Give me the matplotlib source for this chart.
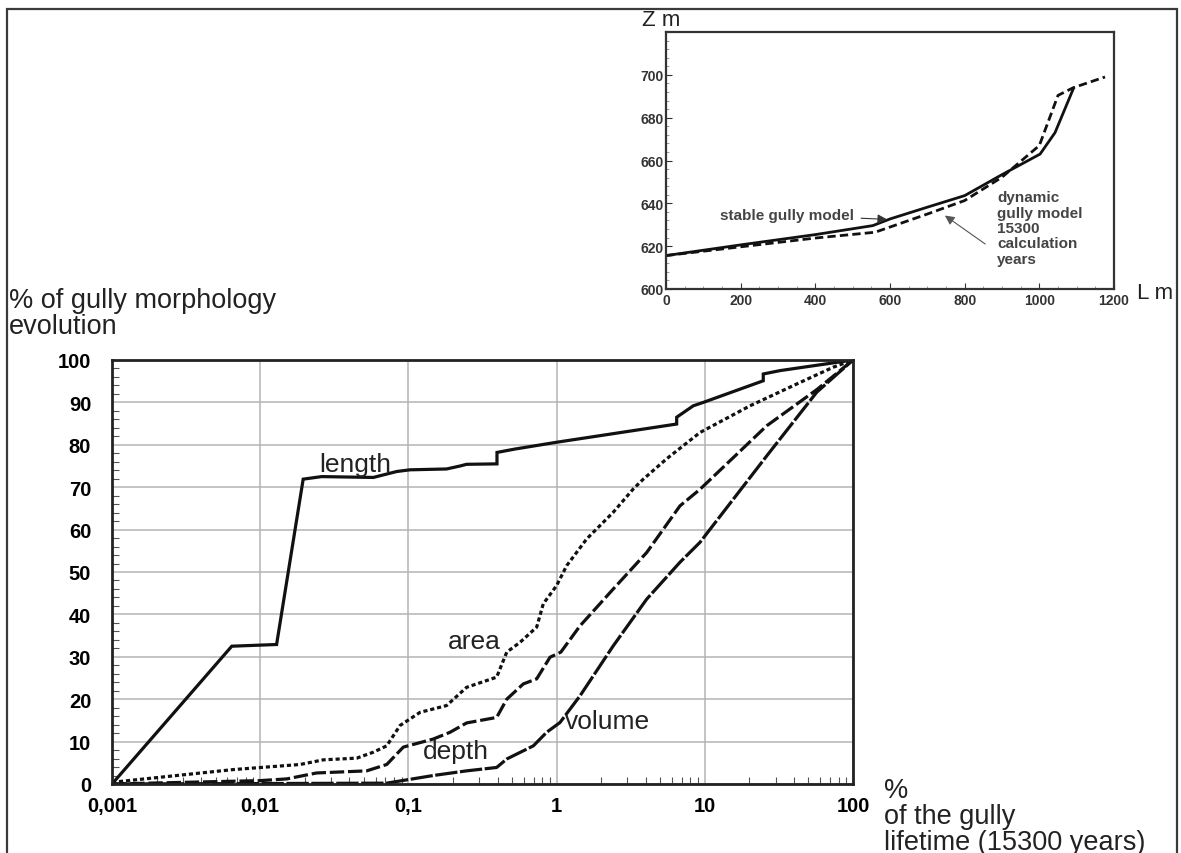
import matplotlib
matplotlib.use("Agg")
import matplotlib.pyplot as plt
from matplotlib.patches import Rectangle
from matplotlib.ticker import LogLocator, MultipleLocator, FixedLocator, NullFormatter

plt.rcParams['font.family'] = ['Liberation Sans', 'DejaVu Sans']

# ---- main chart: share of morphology change vs share of gully lifetime ----
x_ticks = [0.001, 0.01, 0.1, 1, 10, 100]
x_tick_labels = ["0,001", "0,01", "0,1", "1", "10", "100"]
y_ticks = [0, 10, 20, 30, 40, 50, 60, 70, 80, 90, 100]

length_x = [0.001, 0.00643, 0.0129, 0.0195, 0.026, 0.058, 0.0643, 0.0834, 0.1025,
            0.181, 0.223, 0.247, 0.396, 0.396, 0.524, 1.0, 6.46, 6.46, 8.36, 9.77,
            24.8, 24.8, 32.2, 100]
length_y = [0, 32.5, 32.9, 71.9, 72.5, 72.3, 72.7, 73.7, 74.1,
            74.3, 75.0, 75.4, 75.5, 78.2, 79.0, 80.6, 84.9, 86.5, 89.2, 90.0,
            95.1, 96.7, 97.5, 100]

area_x = [0.001, 0.00658, 0.01856, 0.0267, 0.0448, 0.058, 0.0714, 0.0878, 0.1198,
          0.181, 0.247, 0.394, 0.461, 0.566, 0.734, 0.813, 1.0, 1.17, 1.596, 2.413,
          3.293, 3.846, 5.53, 9.28, 20.2, 43.9, 73.6, 100]
area_y = [0.4, 3.4, 4.6, 5.7, 6.1, 7.5, 9.0, 13.8, 16.9,
          18.5, 22.8, 25.2, 31.1, 33.4, 37.0, 42.5, 46.8, 51.5, 57.8, 64.1,
          69.6, 71.9, 76.7, 82.9, 89.2, 94.7, 98.3, 100]

depth_x = [0.001, 0.01, 0.0151, 0.024, 0.0523, 0.0714, 0.0924, 0.147, 0.191, 0.247,
           0.394, 0.461, 0.596, 0.734, 0.903, 1.068, 1.439, 2.413, 4.055, 6.80,
           9.28, 26.2, 56.9, 100]
depth_y = [0, 0.8, 1.2, 2.6, 3.1, 4.6, 8.7, 10.6, 12.2, 14.4,
           15.7, 20.0, 23.6, 24.8, 29.9, 31.1, 37.3, 46.0, 54.6, 65.6,
           69.5, 84.5, 93.0, 100]

volume_x = [0.001, 0.0714, 0.147, 0.247, 0.394, 0.461, 0.697, 0.857, 1.054, 1.439,
            2.413, 4.055, 6.80, 9.28, 26.2, 56.9, 100]
volume_y = [0, 0.2, 2.0, 3.1, 3.9, 5.9, 9.0, 12.2, 14.5, 20.8,
            32.6, 43.6, 52.3, 57.0, 77.4, 92.4, 100]

# ---- inset: longitudinal profiles ----
profile_ticks_x = [0, 200, 400, 600, 800, 1000, 1200]
profile_ticks_y = [600, 620, 640, 660, 680, 700]

stable_L = [0, 200, 400, 554, 600, 700, 800, 900, 1002, 1042, 1091]
stable_Z = [615.6, 620.6, 625.4, 629.6, 632.7, 638.2, 643.6, 653.4, 663.0, 673.0, 693.5]

dynamic_L = [0, 400, 560, 700, 800, 900, 1000, 1050, 1091, 1176]
dynamic_Z = [615.6, 623.8, 626.5, 635.0, 641.3, 652.2, 667.0, 690.4, 694.0, 699.0]

W, H = 1181, 854
fig = plt.figure(figsize=(W / 100, H / 100), dpi=100)


def fx(px):
    return px / W


def fy(py):
    return 1 - py / H


# outer frame
fig.add_artist(Rectangle((fx(7), -0.2), fx(1177) - fx(7), fy(10) + 0.2,
                         transform=fig.transFigure, fill=False,
                         edgecolor='#3a3a3a', lw=1.6, clip_on=False))

ax = fig.add_axes([fx(112), fy(785), fx(853) - fx(112), fy(361) - fy(785)])
ax.set_xscale('log')
ax.set_xlim(0.001, 100)
ax.set_ylim(0, 100)

ax.plot(length_x, length_y, color='#111111', lw=2.3, solid_joinstyle='miter')
ax.plot(area_x, area_y, color='#111111', lw=2.3, dashes=(1.3, 0.9))
ax.plot(depth_x, depth_y, color='#111111', lw=2.3, dashes=(4.5, 1.2))
ax.plot(volume_x, volume_y, color='#111111', lw=2.3, dashes=(7, 0.8))

ax.xaxis.set_major_locator(FixedLocator(x_ticks))
ax.set_xticklabels(x_tick_labels)
ax.xaxis.set_minor_locator(LogLocator(base=10, subs=range(2, 10), numticks=20))
ax.xaxis.set_minor_formatter(NullFormatter())
ax.set_yticks(y_ticks)
ax.yaxis.set_minor_locator(MultipleLocator(2))

ax.grid(True, which='major', color='#b4b4b4', lw=1.1)
ax.tick_params(which='major', direction='in', length=0, labelsize=14.5, pad=9)
ax.tick_params(axis='y', which='major', pad=15)
ax.tick_params(which='minor', direction='in', length=5, width=0.8, color='#555555')
for lab in ax.get_xticklabels() + ax.get_yticklabels():
    lab.set_fontweight('bold')
for s in ax.spines.values():
    s.set_linewidth(2.0)
    s.set_color('#222222')

ax.text(0.044, 75.5, "length", fontsize=19, ha='center', va='center', color='#222222')
ax.text(0.28, 33.8, "area", fontsize=19, ha='center', va='center', color='#222222')
ax.text(0.21, 7.8, "depth", fontsize=19, ha='center', va='center', color='#222222')
ax.text(2.2, 14.8, "volume", fontsize=19, ha='center', va='center', color='#222222')

fig.text(fx(9), fy(314), "% of gully morphology\nevolution", fontsize=19.5,
         ha='left', va='center', linespacing=1.03, color='#222222')
fig.text(fx(884), fy(817), "%\nof the gully\nlifetime (15300 years)", fontsize=19.5,
         ha='left', va='center', linespacing=0.99, color='#222222')

# inset profile chart
ax2 = fig.add_axes([fx(666), fy(290), fx(1114) - fx(666), fy(33) - fy(290)])
ax2.set_xlim(0, 1200)
ax2.set_ylim(600, 720)
ax2.plot(stable_L, stable_Z, color='#111111', lw=2.0)
ax2.plot(dynamic_L, dynamic_Z, color='#111111', lw=2.0, dashes=(3, 1.5))
ax2.set_xticks(profile_ticks_x)
ax2.set_yticks(profile_ticks_y)
ax2.xaxis.set_minor_locator(MultipleLocator(50))
ax2.yaxis.set_minor_locator(MultipleLocator(4))
ax2.tick_params(which='major', direction='in', length=4, width=0.8, labelsize=10,
                pad=3, colors='#333333')
ax2.tick_params(axis='y', which='major', pad=1.5)
ax2.tick_params(which='minor', direction='in', length=2, width=0.6, color='#888888')
for lab in ax2.get_xticklabels() + ax2.get_yticklabels():
    lab.set_fontweight('bold')
for s in ax2.spines.values():
    s.set_linewidth(1.6)
    s.set_color('#333333')

ax2.annotate("stable gully model", xy=(592, 632.5), xytext=(145, 634.6),
             fontsize=11, fontweight='bold', color='#444444', ha='left', va='center',
             arrowprops=dict(arrowstyle='-|>', color='#333333', lw=0.8,
                             mutation_scale=14, shrinkA=3, shrinkB=0))
ax2.annotate("", xy=(747, 634.3), xytext=(855, 621),
             arrowprops=dict(arrowstyle='-|>', color='#555555', lw=0.8,
                             mutation_scale=14, shrinkA=0, shrinkB=0))
ax2.text(887, 628.5, "dynamic\ngully model\n15300\ncalculation\nyears",
         fontsize=11, fontweight='bold', color='#444444', ha='left', va='center',
         linespacing=1.12)

fig.text(fx(642), fy(21), "Z m", fontsize=16, ha='left', va='center', color='#222222')
fig.text(fx(1137), fy(294), "L m", fontsize=16, ha='left', va='center', color='#222222')

fig.savefig("out.png", dpi=100)
